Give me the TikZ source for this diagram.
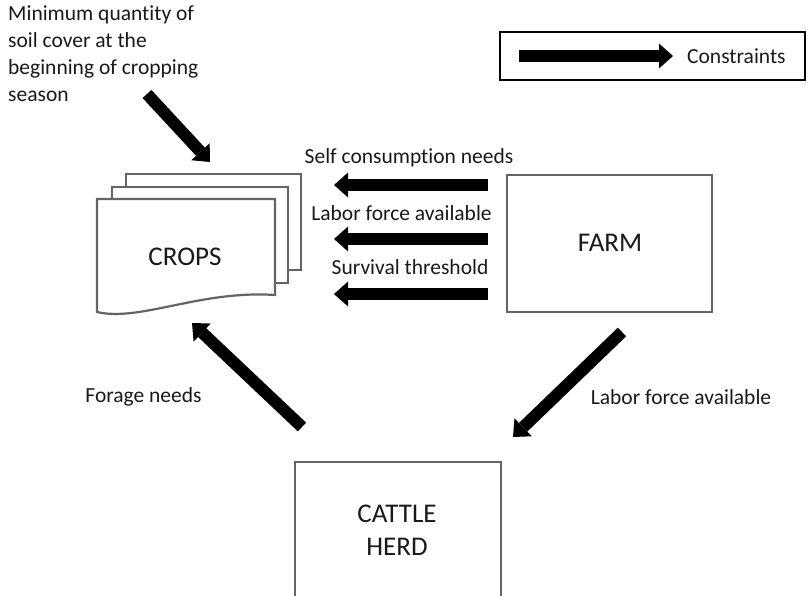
\documentclass[tikz,border=0pt]{standalone}
\usepackage{fontspec}
\setmainfont{Carlito}[Ligatures=CommonOff]
\usetikzlibrary{arrows.meta}
\definecolor{boxgray}{RGB}{100,100,100}
\definecolor{txt}{RGB}{25,25,25}
\tikzset{
  lbl/.style={font=\fontsize{21.5}{27}\selectfont, text=txt, inner sep=0pt},
  big/.style={font=\fontsize{27}{34}\selectfont, text=txt, inner sep=0pt, align=center},
  sysbox/.style={draw=boxgray, line width=2.2pt, fill=white},
  fat/.style={line width=12pt, -{Triangle[length=14pt,width=25pt,line width=0pt]}, black},
}
\begin{document}
\begin{tikzpicture}[x=1pt,y=-1pt]
\useasboundingbox (0,0) rectangle (808,596);
\clip (0,0) rectangle (808,596);
% legend
\draw[black, line width=2pt] (500,32) rectangle (805,80);
\coordinate (lgA) at (519,56);
\coordinate (lgB) at (673,56);
\draw[fat] (lgA) -- (lgB);
\node[lbl, anchor=west] (lgT) at (687,56) {Constraints};
% crops (stacked documents)
\draw[sysbox] (126,174) rectangle (301,270);
\draw[sysbox] (112,187) rectangle (288,283);
\draw[sysbox] (97,199) -- (275,199) -- (275,295) .. controls (200,290) and (140,322) .. (97,312) -- cycle;
\node[big] (crops) at (185,257) {CROPS};
% farm
\draw[sysbox] (507,175) rectangle (712,312);
\node[big] (farm) at (610,243) {FARM};
% cattle herd
\draw[sysbox] (295,462) rectangle (501,620);
\node[big] (herd) at (397,530) {CATTLE\\[-1pt]HERD};
% top-left constraint
\node[lbl, anchor=north west, align=left] (soil) at (8,6) {Minimum quantity of\\soil cover at the\\beginning of cropping\\season};
\coordinate (sA) at (147,94);
\coordinate (sB) at (210,162);
\draw[fat] (sA) -- (sB);
% farm to crops
\coordinate (f1) at (488,185);
\coordinate (c1) at (334,185);
\coordinate (f2) at (488,239);
\coordinate (c2) at (334,239);
\coordinate (f3) at (488,294);
\coordinate (c3) at (334,294);
\draw[fat] (f1) -- (c1);
\draw[fat] (f2) -- (c2);
\draw[fat] (f3) -- (c3);
\node[lbl] (l1) at (409,158) {Self consumption needs};
\node[lbl] (l2) at (401.5,213) {Labor force available};
\node[lbl] (l3) at (410,267) {Survival threshold};
% herd to crops
\coordinate (hA) at (302,427);
\coordinate (hB) at (192,323);
\draw[fat] (hA) -- (hB);
\node[lbl] (l4) at (143.5,397) {Forage needs};
% farm to herd
\coordinate (fA) at (622,332);
\coordinate (fB) at (513,437);
\draw[fat] (fA) -- (fB);
\node[lbl] (l5) at (681,397) {Labor force available};
\end{tikzpicture}
\end{document}
